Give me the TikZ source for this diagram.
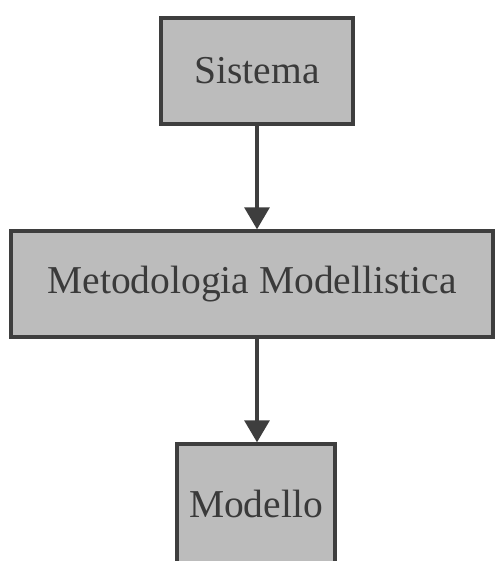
\documentclass[tikz,border=0pt]{standalone}
\usepackage{fontspec}
\setmainfont{Liberation Serif}
\usetikzlibrary{arrows.meta}
\definecolor{boxfill}{RGB}{188,188,188}
\definecolor{inkgray}{RGB}{62,62,62}
\definecolor{labelgray}{RGB}{58,58,58}
\begin{document}
\begin{tikzpicture}[x=1pt,y=-1pt,
  stagebox/.style={draw=inkgray, line width=3.4pt, fill=boxfill,
    text=labelgray, inner sep=0pt, minimum height=106pt,
    font=\fontsize{39.5}{42}\selectfont},
  flow/.style={draw=inkgray, line width=3.2pt,
    -{Triangle[width=25pt,length=22pt]}, shorten >=0pt}]
  \clip (0,0) rectangle (495,561);
  \fill[white] (0,0) rectangle (495,561);
  % the three stages of the modelling process
  \node[stagebox, minimum width=192pt] (sis) at (257,71) {Sistema};
  \node[stagebox, minimum width=482pt] (met) at (252,284) {Metodologia Modellistica};
  \node[stagebox, minimum width=158pt, minimum height=130pt] (mod) at (256,509) {};
  \node[text=labelgray, font=\fontsize{39.5}{42}\selectfont, inner sep=0pt,
        anchor=base] (modlabel) at (256,517) {Modello};
  % connectors between stages
  \draw[flow] (sis.south) -- (sis.south |- met.north);
  \draw[flow] (sis.south |- met.south) -- (sis.south |- mod.north);
\end{tikzpicture}
\end{document}
